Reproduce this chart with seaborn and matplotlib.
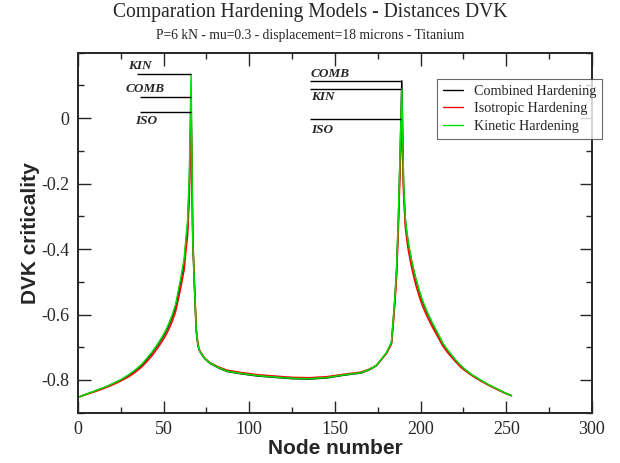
import pandas as pd
import matplotlib
matplotlib.use('Agg')
import matplotlib.pyplot as plt
from matplotlib.ticker import MultipleLocator
import seaborn as sns
sns.set_style('ticks')
plt.rcParams['font.family'] = ['Liberation Serif', 'DejaVu Serif']
plt.rcParams['axes.unicode_minus'] = False

# Data
nodes = [1, 5, 9, 13, 17, 21, 25, 29, 33, 37,
         40, 43, 46, 49, 51, 53, 55, 57, 59, 60,
         61, 62, 63, 64, 65, 66, 67, 68, 69, 70,
         71, 72, 74, 77, 82, 87, 95, 105, 115, 125,
         135, 145, 153, 160, 165, 170, 174, 177, 180, 182,
         183, 184, 185, 186, 187, 188, 189, 190, 191, 192,
         193, 195, 197, 199, 201, 204, 207, 210, 213, 216,
         220, 223, 226, 230, 235, 240, 245, 249, 253]
combined = [-0.851, -0.843, -0.836, -0.828, -0.820, -0.810, -0.800, -0.788, -0.773, -0.755,
            -0.738, -0.719, -0.697, -0.673, -0.655, -0.633, -0.607, -0.576, -0.525, -0.500,
            -0.470, -0.440, -0.380, -0.330, -0.200, 0.064, -0.380, -0.520, -0.650, -0.695,
            -0.712, -0.720, -0.735, -0.749, -0.763, -0.774, -0.781, -0.788, -0.792, -0.796,
            -0.797, -0.794, -0.787, -0.782, -0.779, -0.769, -0.757, -0.738, -0.718, -0.697,
            -0.685, -0.620, -0.550, -0.460, -0.310, -0.120, 0.114, -0.200, -0.310, -0.355,
            -0.390, -0.445, -0.490, -0.527, -0.560, -0.597, -0.630, -0.660, -0.690, -0.712,
            -0.738, -0.755, -0.769, -0.785, -0.801, -0.816, -0.829, -0.839, -0.848]
isotropic = [-0.851, -0.844, -0.837, -0.830, -0.822, -0.813, -0.803, -0.792, -0.778, -0.761,
             -0.745, -0.727, -0.706, -0.683, -0.666, -0.645, -0.621, -0.591, -0.543, -0.517,
             -0.490, -0.462, -0.405, -0.358, -0.240, 0.018, -0.360, -0.505, -0.640, -0.690,
             -0.709, -0.718, -0.733, -0.747, -0.760, -0.770, -0.777, -0.784, -0.788, -0.792,
             -0.793, -0.790, -0.784, -0.779, -0.776, -0.767, -0.756, -0.738, -0.719, -0.700,
             -0.690, -0.630, -0.565, -0.480, -0.340, -0.160, -0.003, -0.230, -0.330, -0.375,
             -0.410, -0.463, -0.507, -0.542, -0.573, -0.609, -0.640, -0.668, -0.697, -0.718,
             -0.742, -0.759, -0.772, -0.787, -0.803, -0.817, -0.830, -0.840, -0.848]
kinetic = [-0.851, -0.843, -0.835, -0.827, -0.819, -0.809, -0.799, -0.786, -0.771, -0.753,
           -0.735, -0.716, -0.694, -0.669, -0.651, -0.628, -0.601, -0.569, -0.515, -0.489,
           -0.458, -0.428, -0.367, -0.312, -0.170, 0.134, -0.370, -0.515, -0.648, -0.694,
           -0.711, -0.719, -0.734, -0.748, -0.762, -0.773, -0.780, -0.787, -0.791, -0.795,
           -0.796, -0.793, -0.786, -0.781, -0.778, -0.768, -0.756, -0.737, -0.716, -0.695,
           -0.682, -0.615, -0.545, -0.452, -0.300, -0.105, 0.089, -0.190, -0.303, -0.350,
           -0.386, -0.441, -0.486, -0.523, -0.556, -0.594, -0.627, -0.657, -0.688, -0.710,
           -0.736, -0.753, -0.768, -0.784, -0.800, -0.815, -0.828, -0.839, -0.848]
models = ['Combined Hardening', 'Isotropic Hardening', 'Kinetic Hardening']

df = pd.concat([
    pd.DataFrame({'Node number': nodes, 'DVK criticality': vals, 'Model': name})
    for name, vals in zip(models, [combined, isotropic, kinetic])
]).reset_index(drop=True)

fig = plt.figure(figsize=(6.2, 4.63), dpi=100)
ax = fig.add_axes([0.1258, 0.1086, 0.829, 0.7776])
sns.lineplot(data=df, x='Node number', y='DVK criticality', hue='Model', hue_order=models,
             palette=['black', 'red', '#00e000'], linewidth=1.1, ax=ax, legend=True)

ax.set_xlim(0, 300)
ax.set_ylim(-0.9, 0.2)
ax.xaxis.set_major_locator(MultipleLocator(50))
ax.xaxis.set_minor_locator(MultipleLocator(25))
ax.set_yticks([-0.8, -0.6, -0.4, -0.2, 0])
ax.set_yticklabels(['-0.8', '-0.6', '-0.4', '-0.2', '0'])
ax.yaxis.set_minor_locator(MultipleLocator(0.1))
ax.tick_params(which='both', direction='in', top=True, right=True, width=1, labelsize=13)
ax.tick_params(which='major', length=9, pad=6)
ax.tick_params(which='minor', length=4.5)
for s in ax.spines.values():
    s.set_linewidth(1.4)
ax.set_xlabel('Node number', family=['Liberation Sans'], fontweight='bold', fontsize=15, labelpad=1)
ax.set_ylabel('DVK criticality', family=['Liberation Sans'], fontweight='bold', fontsize=15, labelpad=1)

# peak markers
lab = dict(fontsize=9.5, fontweight='bold', fontstyle='italic')
peaks_left = {'KIN': max(kinetic[:30]), 'COMB': max(combined[:30]), 'ISO': max(isotropic[:30])}
ax.hlines(peaks_left['KIN'], 34.4, 65.8, color='black', lw=1)
ax.hlines(peaks_left['COMB'], 36.2, 65.8, color='black', lw=1)
ax.hlines(peaks_left['ISO'], 36.2, 65.8, color='black', lw=1)
ax.text(36.2, peaks_left['KIN'] + 0.025, 'KIN', ha='center', va='center', **lab)
ax.text(39.1, peaks_left['COMB'] + 0.025, 'COMB', ha='center', va='center', **lab)
ax.text(40.0, peaks_left['ISO'] - 0.027, 'ISO', ha='center', va='center', **lab)
peaks_right = {'COMB': max(combined[40:]), 'KIN': max(kinetic[40:]), 'ISO': max(isotropic[40:])}
for k in peaks_right:
    ax.hlines(peaks_right[k], 135.4, 188.8, color='black', lw=1)
ax.text(135.8, peaks_right['COMB'] + 0.021, 'COMB', ha='left', va='center', **lab)
ax.text(135.8, peaks_right['KIN'] - 0.023, 'KIN', ha='left', va='center', **lab)
ax.text(135.8, peaks_right['ISO'] - 0.033, 'ISO', ha='left', va='center', **lab)

handles, labels = ax.get_legend_handles_labels()
leg = ax.legend(handles, labels, loc='upper left', bbox_to_anchor=(0.698, 0.927), frameon=True,
                fancybox=False, edgecolor='#444444', fontsize=10.2, handlelength=1.4,
                handletextpad=0.8, borderpad=0.42, labelspacing=0.32, borderaxespad=0)
leg.get_frame().set_linewidth(0.8)
for l in leg.get_lines():
    l.set_linewidth(1.0)

fig.text(0.5, 0.972, 'Comparation Hardening Models - Distances DVK', ha='center', va='center', fontsize=14.1)
fig.text(0.5, 0.924, 'P=6 kN - mu=0.3 - displacement=18 microns - Titanium', ha='center', va='center', fontsize=9.8)

plt.savefig('out.png', dpi=100)
